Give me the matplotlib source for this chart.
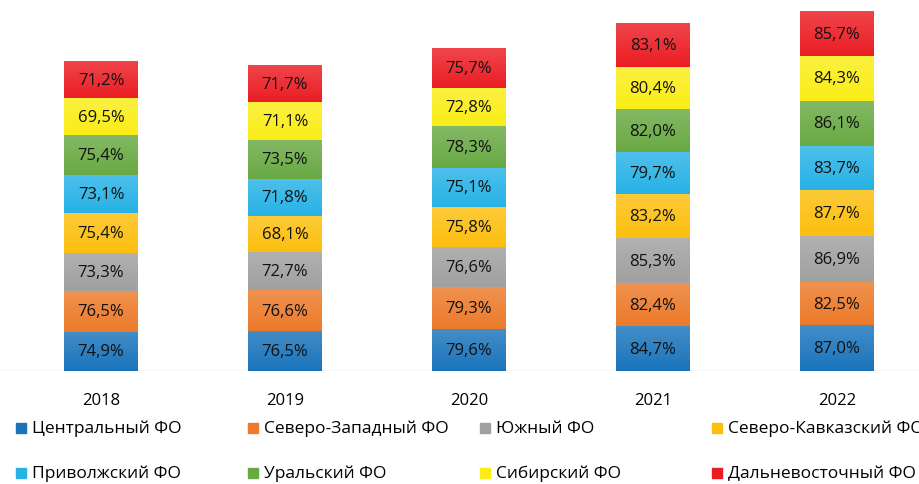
import numpy as np
import matplotlib.pyplot as plt
from matplotlib.patches import Rectangle
from matplotlib.colors import to_rgb

plt.rcParams['font.family'] = ['Open Sans', 'DejaVu Sans']

# data
years = ['2018', '2019', '2020', '2021', '2022']
regions = ['Центральный ФО', 'Северо-Западный ФО', 'Южный ФО', 'Северо-Кавказский ФО',
           'Приволжский ФО', 'Уральский ФО', 'Сибирский ФО', 'Дальневосточный ФО']
central = [74.9, 76.5, 79.6, 84.7, 87.0]
northwest = [76.5, 76.6, 79.3, 82.4, 82.5]
south = [73.3, 72.7, 76.6, 85.3, 86.9]
ncaucasus = [75.4, 68.1, 75.8, 83.2, 87.7]
volga = [73.1, 71.8, 75.1, 79.7, 83.7]
ural = [75.4, 73.5, 78.3, 82.0, 86.1]
siberia = [69.5, 71.1, 72.8, 80.4, 84.3]
fareast = [71.2, 71.7, 75.7, 83.1, 85.7]
series = [central, northwest, south, ncaucasus, volga, ural, siberia, fareast]
colors = ['#1a74bb', '#ec7a2a', '#a0a0a0', '#fcbf0e', '#27b2e6', '#69a943', '#faed17', '#eb1d24']

fig = plt.figure(figsize=(9.19, 4.85), dpi=100)
ax = fig.add_axes([0, 0.233, 1, 0.767])

x = np.arange(len(years))
bottom = np.zeros(len(years))
for vals, col in zip(series, colors):
    bars = ax.bar(x, vals, 0.40, bottom=bottom, color=col, edgecolor='none', zorder=2)
    # light vertical gradient inside each segment (lighter at the top)
    c = np.array(to_rgb(col))
    w = np.linspace(0, 0.18, 50)[:, None, None]  # white mix, 0 at bottom
    img = c[None, None, :] * (1 - w) + w
    img = np.repeat(img, 2, axis=1)
    for b, v in zip(bars, vals):
        x0, y0 = b.get_x(), b.get_y()
        im = ax.imshow(img, extent=(x0, x0 + b.get_width(), y0, y0 + b.get_height()),
                       origin='lower', aspect='auto', zorder=3)
        im.set_clip_path(b)
        ax.text(b.get_x() + b.get_width() / 2, y0 + b.get_height() / 2,
                f'{v:.1f}%'.replace('.', ','), ha='center', va='center',
                fontsize=12, color='#111111', zorder=4)
    bottom += np.array(vals)

ax.set_xlim(-0.549, 4.446)
ax.set_ylim(0, 707)
ax.axhline(0, color='#d9d9d9', lw=1, zorder=1)
for s in ax.spines.values():
    s.set_visible(False)
ax.set_yticks([])
ax.set_xticks(x)
ax.set_xticklabels(years, fontsize=12)
ax.tick_params(axis='x', length=0, pad=15)

# legend
legend_x = [16, 248, 480, 712]
legend_y = [429, 474]
for i, (name, col) in enumerate(zip(regions, colors)):
    r, cidx = divmod(i, 4)
    lx = legend_x[cidx] / 919
    ly = 1 - legend_y[r] / 485
    fig.add_artist(Rectangle((lx, ly - 5 / 485), 10 / 919, 10 / 485, color=col,
                             transform=fig.transFigure))
    fig.text(lx + 16 / 919, ly, name, fontsize=12.5, va='center', ha='left')

fig.savefig('out.png', dpi=100)
